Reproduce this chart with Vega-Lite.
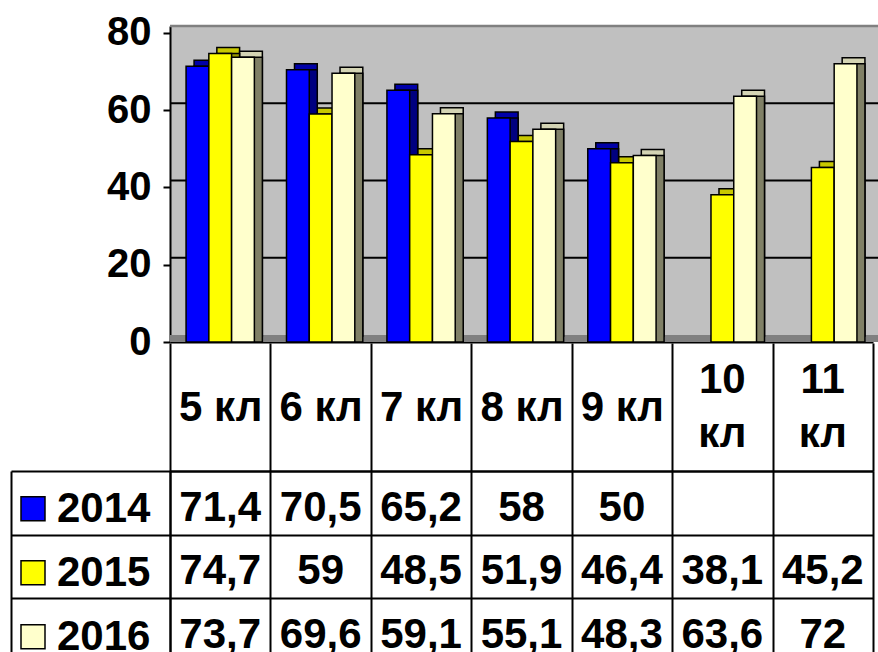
{
  "$schema": "https://vega.github.io/schema/vega-lite/v6.json",
  "background": "white",
  "padding": {"left": 10, "top": 12, "right": 0, "bottom": 0},
  "spacing": 129,
  "bounds": "flush",
  "config": {
    "font": "Liberation Sans",
    "view": {"stroke": null},
    "locale": {"number": {"decimal": ",", "thousands": " ", "grouping": [3], "currency": ["", ""]}}
  },
  "datasets": {
    "scores": [
      {"class": "5 кл", "year": "2014", "value": 71.4},
      {"class": "5 кл", "year": "2015", "value": 74.7},
      {"class": "5 кл", "year": "2016", "value": 73.7},
      {"class": "6 кл", "year": "2014", "value": 70.5},
      {"class": "6 кл", "year": "2015", "value": 59},
      {"class": "6 кл", "year": "2016", "value": 69.6},
      {"class": "7 кл", "year": "2014", "value": 65.2},
      {"class": "7 кл", "year": "2015", "value": 48.5},
      {"class": "7 кл", "year": "2016", "value": 59.1},
      {"class": "8 кл", "year": "2014", "value": 58},
      {"class": "8 кл", "year": "2015", "value": 51.9},
      {"class": "8 кл", "year": "2016", "value": 55.1},
      {"class": "9 кл", "year": "2014", "value": 50},
      {"class": "9 кл", "year": "2015", "value": 46.4},
      {"class": "9 кл", "year": "2016", "value": 48.3},
      {"class": "10 кл", "year": "2015", "value": 38.1},
      {"class": "10 кл", "year": "2016", "value": 63.6},
      {"class": "11 кл", "year": "2015", "value": 45.2},
      {"class": "11 кл", "year": "2016", "value": 72}
    ],
    "floor": [{"v": 0}],
    "grid": [{"v": 20}, {"v": 40}, {"v": 60}],
    "wallTop": [{"v": 80}]
  },
  "resolve": {
    "scale": {"x": "independent", "y": "independent", "color": "independent", "xOffset": "independent"},
    "axis": {"x": "independent", "y": "independent"},
    "legend": {"color": "independent"}
  },
  "vconcat": [
    {
      "width": 708,
      "height": 316,
      "view": {"fill": "#C0C0C0", "stroke": null},
      "resolve": {"scale": {"xOffset": "independent", "color": "independent"}},
      "layer": [
        {
          "data": {"name": "floor"},
          "mark": {"type": "rule", "color": "#808080", "strokeWidth": 7, "yOffset": -3.5},
          "encoding": {"y": {"field": "v", "type": "quantitative"}}
        },
        {
          "data": {"name": "grid"},
          "mark": {"type": "rule", "color": "black", "strokeWidth": 2, "yOffset": -7},
          "encoding": {"y": {"field": "v", "type": "quantitative"}}
        },
        {
          "data": {"name": "wallTop"},
          "mark": {"type": "rule", "color": "#808080", "strokeWidth": 2.5, "yOffset": -7},
          "encoding": {"y": {"field": "v", "type": "quantitative"}}
        },
        {
          "data": {"name": "scores"},
          "mark": {"type": "bar", "yOffset": -6, "stroke": "black", "strokeWidth": 1.5},
          "encoding": {
            "x": {"field": "class", "type": "nominal"},
            "xOffset": {"field": "year", "type": "nominal", "scale": {"domain": ["2014", "2015", "2016"], "range": [8, 76.3], "paddingInner": 0, "paddingOuter": 0}},
            "y": {"field": "value", "type": "quantitative"},
            "color": {"field": "year", "type": "nominal", "scale": {"domain": ["2014", "2015", "2016"], "range": ["#0000A8", "#C8C800", "#D4D4B4"]}, "legend": null}
          }
        },
        {
          "data": {"name": "scores"},
          "mark": {"type": "bar", "stroke": "black", "strokeWidth": 1.5},
          "encoding": {
            "x": {"field": "class", "type": "nominal"},
            "xOffset": {"field": "year", "type": "nominal", "scale": {"domain": ["2014", "2015", "2016"], "range": [8, 76.3], "paddingInner": 0, "paddingOuter": 0}},
            "y": {"field": "value", "type": "quantitative"},
            "color": {"field": "year", "type": "nominal", "scale": {"domain": ["2014", "2015", "2016"], "range": ["#000080", "#999900", "#808066"]}, "legend": null}
          }
        },
        {
          "data": {"name": "scores"},
          "mark": {"type": "bar", "stroke": "black", "strokeWidth": 1.5},
          "encoding": {
            "x": {
              "field": "class", "type": "nominal",
              "scale": {"domain": ["5 кл", "6 кл", "7 кл", "8 кл", "9 кл", "10 кл", "11 кл"], "paddingInner": 0.32, "paddingOuter": 0.16, "range": [0, 703]},
              "axis": {"title": null, "labels": false, "ticks": false, "grid": false, "domain": true, "domainColor": "black", "domainWidth": 2}
            },
            "xOffset": {"field": "year", "type": "nominal", "scale": {"domain": ["2014", "2015", "2016"], "range": [0, 68.3], "paddingInner": 0, "paddingOuter": 0}},
            "y": {
              "field": "value", "type": "quantitative",
              "scale": {"domain": [0, 81.8], "nice": false, "zero": true},
              "axis": {
                "title": null, "values": [0, 20, 40, 60, 80], "grid": false,
                "domain": true, "domainColor": "black", "domainWidth": 2,
                "ticks": true, "tickColor": "black", "tickWidth": 2, "tickSize": 7,
                "labelFont": "Liberation Sans", "labelFontSize": 40, "labelFontWeight": "bold", "labelColor": "black", "labelPadding": 12
              }
            },
            "color": {"field": "year", "type": "nominal", "scale": {"domain": ["2014", "2015", "2016"], "range": ["#0000FF", "#FFFF00", "#FFFFCC"]}, "legend": null}
          }
        }
      ]
    },
    {
      "width": 703,
      "height": 190.5,
      "data": {"name": "scores"},
      "resolve": {"axis": {"x": "independent", "y": "independent"}},
      "layer": [
        {
          "mark": {"type": "text", "font": "Liberation Sans", "fontSize": 42, "fontWeight": "bold", "baseline": "middle", "dy": 5, "color": "black"},
          "encoding": {
            "x": {
              "field": "class", "type": "nominal",
              "scale": {"domain": ["5 кл", "6 кл", "7 кл", "8 кл", "9 кл", "10 кл", "11 кл"], "paddingInner": 0, "paddingOuter": 0},
              "axis": {
                "orient": "top", "title": null,
                "domain": true, "domainColor": "black", "domainWidth": 2,
                "ticks": true, "tickColor": "black", "tickWidth": 2, "tickSize": 128, "tickBand": "extent",
                "grid": true, "gridColor": "black", "gridWidth": 2, "gridOpacity": 1,
                "labelFont": "Liberation Sans", "labelFontSize": 42, "labelFontWeight": "bold", "labelColor": "black",
                "labelPadding": -64, "labelBaseline": "middle", "labelAngle": 0,
                "labelOverlap": false, "labelLimit": 300,
                "labelExpr": "length(datum.label) > 4 ? '' : datum.label"
              }
            },
            "y": {
              "field": "year", "type": "nominal",
              "scale": {"domain": ["2014", "2015", "2016"], "paddingInner": 0, "paddingOuter": 0},
              "axis": {
                "title": null, "labels": false,
                "domain": true, "domainColor": "black", "domainWidth": 2,
                "ticks": true, "tickColor": "black", "tickWidth": 2, "tickSize": 159, "tickBand": "extent",
                "grid": true, "gridColor": "black", "gridWidth": 2, "gridOpacity": 1
              }
            },
            "text": {"field": "value", "type": "quantitative", "format": ".1~f"}
          }
        },
        {
          "mark": {"type": "square", "opacity": 0},
          "encoding": {
            "x": {
              "field": "class", "type": "nominal",
              "axis": {
                "orient": "top", "title": null, "domain": false, "ticks": false, "grid": false,
                "labelFont": "Liberation Sans", "labelFontSize": 42, "labelFontWeight": "bold", "labelColor": "black",
                "labelPadding": 92, "labelBaseline": "middle", "labelLineHeight": 54, "labelAngle": 0,
                "labelOverlap": false, "labelLimit": 300,
                "labelExpr": "length(datum.label) > 4 ? split(datum.label, ' ') : ''"
              }
            },
            "y": {
              "field": "year", "type": "nominal",
              "axis": {"orient": "left", "offset": 159, "title": null, "labels": false, "ticks": false, "grid": false, "domain": true, "domainColor": "black", "domainWidth": 2}
            },
            "color": {
              "field": "year", "type": "nominal",
              "scale": {"domain": ["2014", "2015", "2016"], "range": ["#0000FF", "#FFFF00", "#FFFFCC"]},
              "legend": {
                "orient": "none", "legendX": -158, "legendY": 6, "title": null,
                "symbolType": "square", "symbolSize": 576, "symbolStrokeColor": "black", "symbolStrokeWidth": 1.5, "symbolOpacity": 1,
                "labelFont": "Liberation Sans", "labelFontSize": 42, "labelFontWeight": "bold", "labelColor": "black", "labelOffset": 3,
                "clipHeight": 63.5, "rowPadding": 0, "padding": 0
              }
            }
          }
        }
      ]
    }
  ]
}
